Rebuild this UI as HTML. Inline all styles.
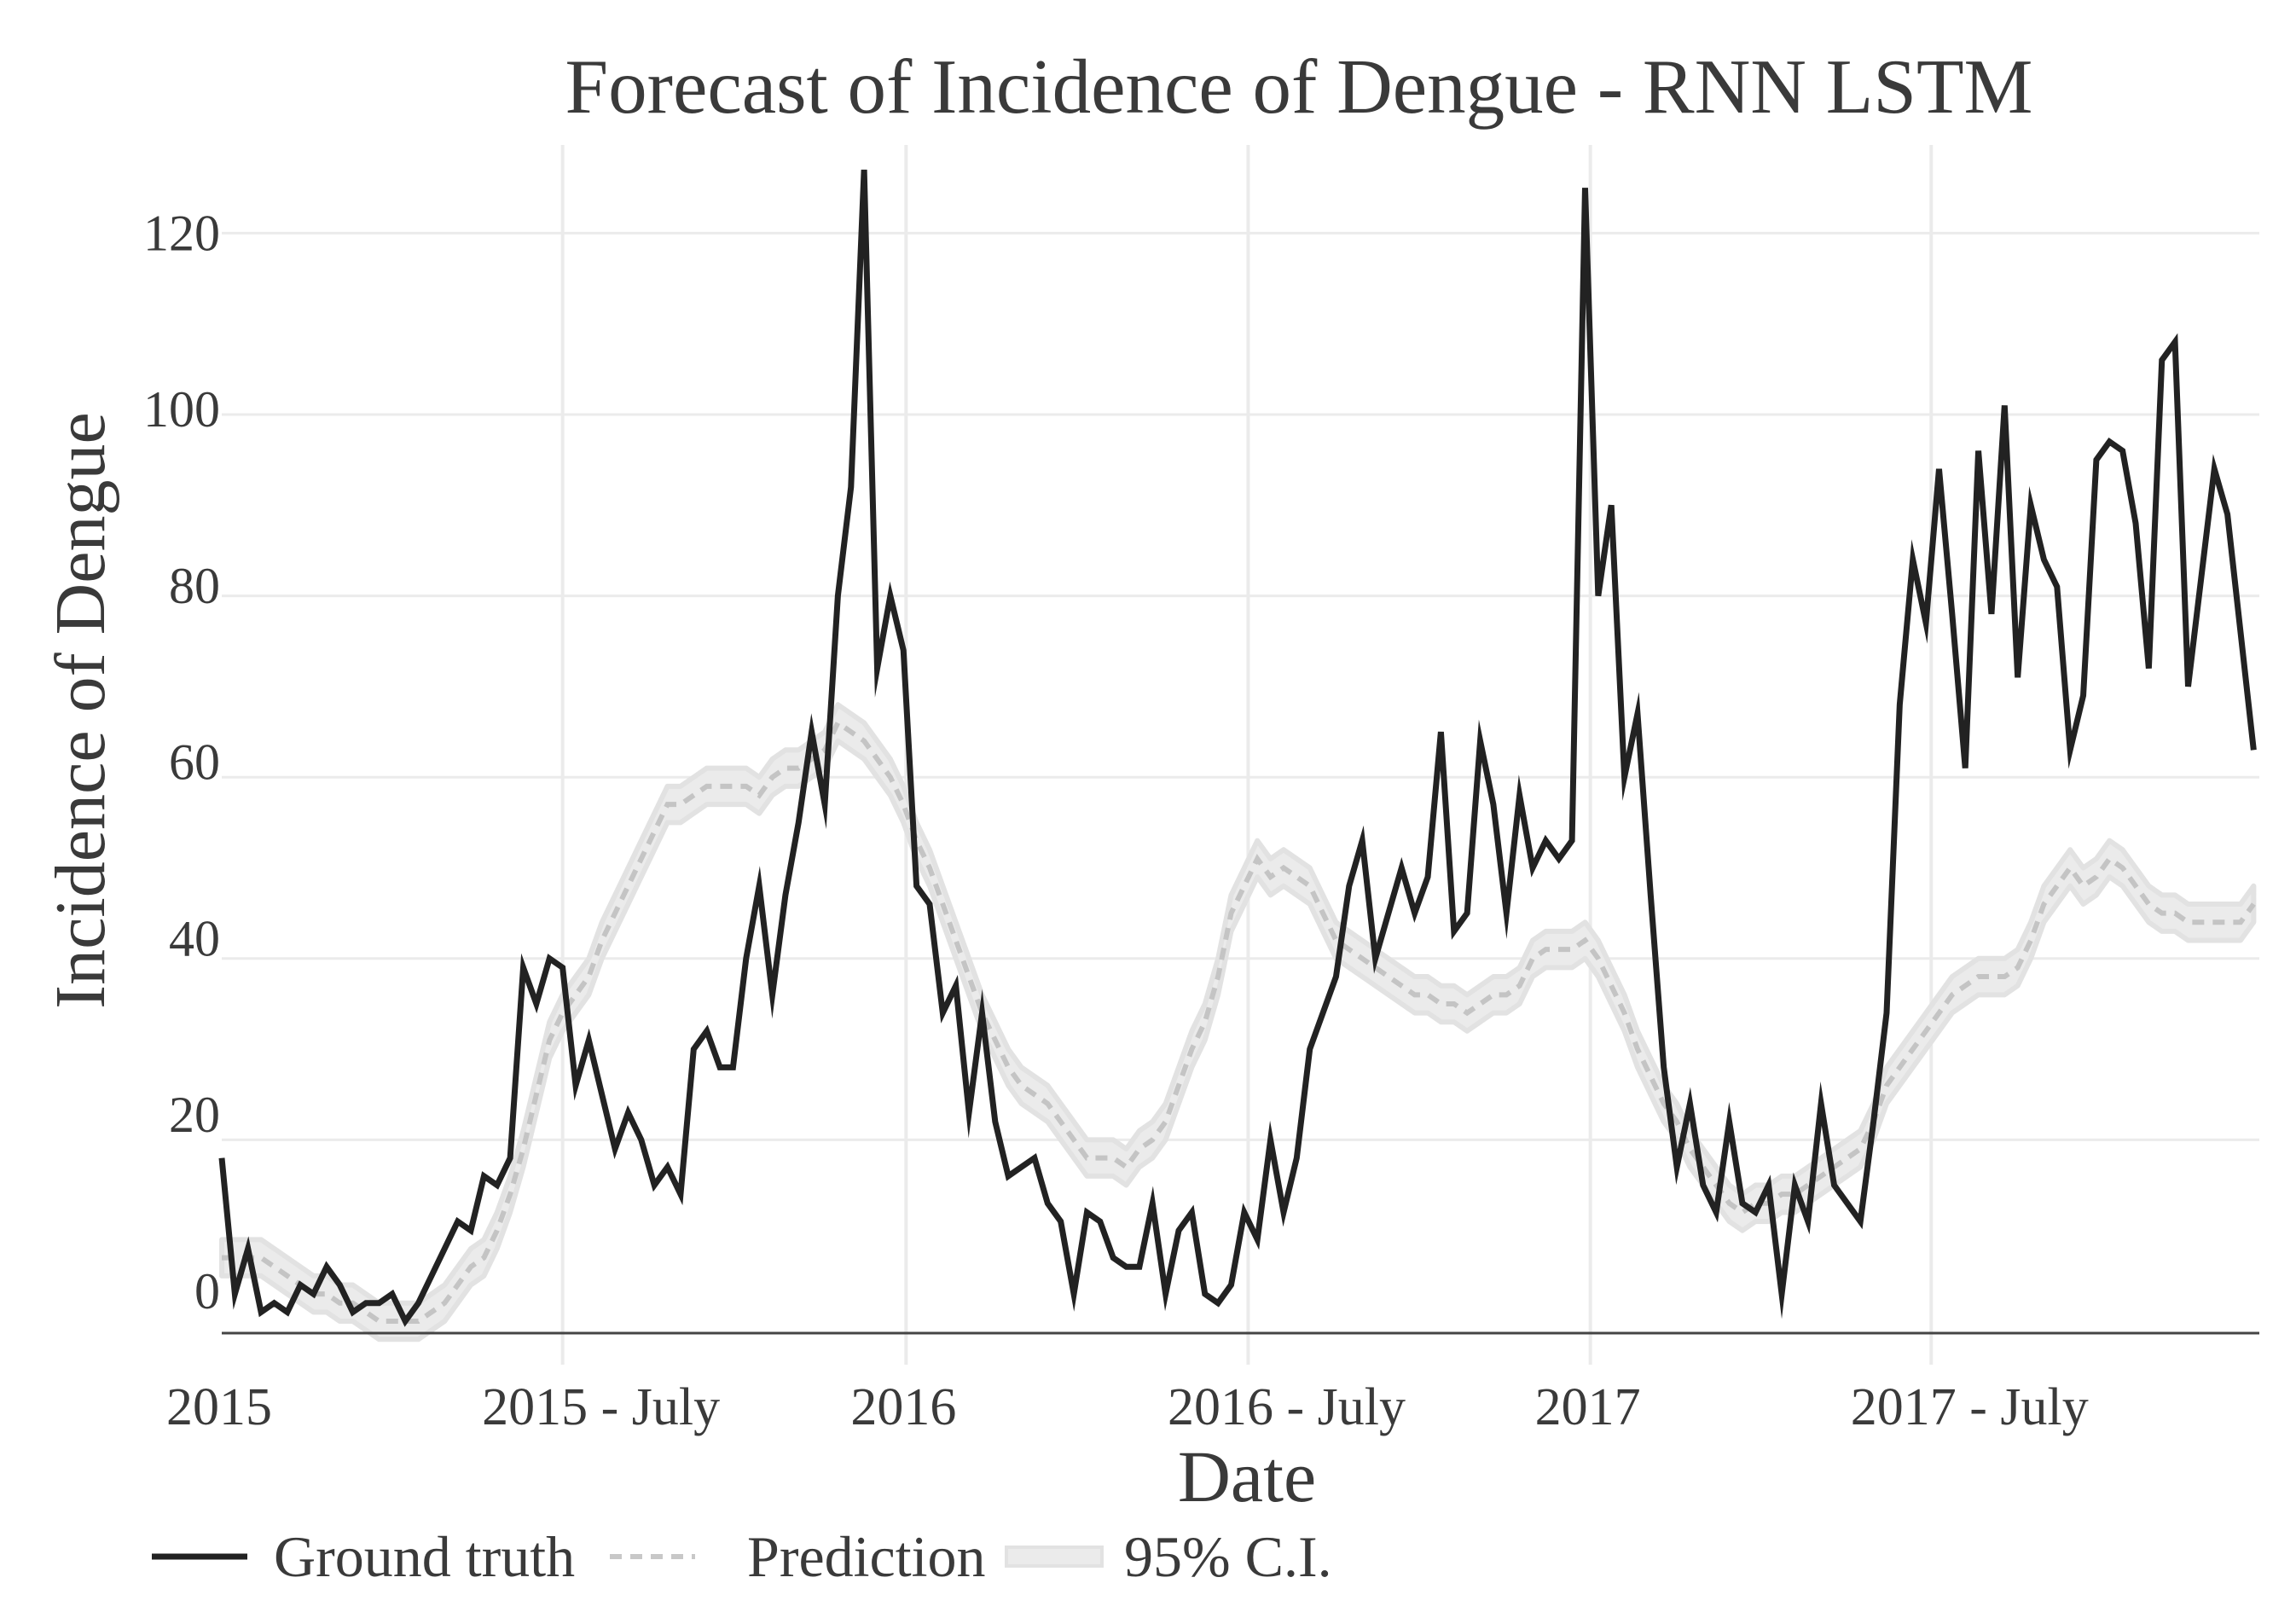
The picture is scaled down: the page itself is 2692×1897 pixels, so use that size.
<!DOCTYPE html>
<html><head><meta charset="utf-8"><style>
html,body{margin:0;padding:0;background:#fff;}
svg text{font-family:"Liberation Serif",serif;fill:#3a3a3a;}
</style></head><body>
<svg id="chart" width="2692" height="1892" viewBox="0 0 2692 1892" xmlns="http://www.w3.org/2000/svg">
<rect width="2692" height="1892" fill="#fff"/>
<g id="grid"></g>
<g id="band"></g>
<g id="series"></g>
<line x1="260" y1="1563" x2="2649" y2="1563" stroke="#444" stroke-width="3"/>
<g id="labels"></g>
<text x="1523" y="132" font-size="91" text-anchor="middle">Forecast of Incidence of Dengue - RNN LSTM</text>
<text x="1462" y="1760" font-size="86" text-anchor="middle" fill="#222">Date</text>
<text x="0" y="0" font-size="84" text-anchor="middle" transform="translate(122,833) rotate(-90)">Incidence of Dengue</text>
<g>
<g>
<line x1="178" y1="1825" x2="290" y2="1825" stroke="#222" stroke-width="7"/>
<text x="321" y="1848" font-size="68">Ground truth</text></g>
<g>
<line x1="715" y1="1825" x2="815" y2="1825" stroke="#c8c8c8" stroke-width="6" stroke-dasharray="14,10"/>
<text x="876" y="1848" font-size="68">Prediction</text></g>
<g>
<rect x="1180" y="1814" width="112" height="22" fill="#ebebeb" stroke="#e2e2e2" stroke-width="4"/>
<text x="1318" y="1848" font-size="68">95% C.I.</text></g>
</g>
</svg>
<script>
const truth=[18,3,8,1,2,1,4,3,6,4,1,2,2,3,0,2,5,8,11,10,16,15,18,39,35,40,39,
26,31,25,19,23,20,15,17,14,30,32,28,28,40,48,36,47,55,65,57,80,92,127,72,80,74,
48,46,34,37,23,34,22,16,17,18,13,11,3,12,11,7,6,6,13,3,10,12,3,2,4,12,9,
20,12,18,30,34,38,48,53,40,45,50,45,49,65,43,45,64,57,45,58,50,53,51,53,125,
80,90,60,67,47,28,17,24,15,12,22,13,12,15,3,15,11,24,15,13,11,22,34,
68,84,77,94,78,61,96,78,101,71,90,84,81,63,69,95,97,96,88,72,106,108,70,82,94,89,76,63];
const pred=[7,7,7,7,6,5,4,3,3,2,2,1,0,0,0,0,1,2,4,6,7,10,14,19,25,31,34,
36,38,42,45,48,51,54,57,57,58,59,59,59,59,58,60,61,61,62,63,66,65,64,62,60,57,
53,50,46,42,38,34,31,28,26,25,24,22,20,18,18,18,17,19,20,
22,26,30,33,38,45,48,51,49,50,49,48,45,42,41,40,
39,38,37,36,36,35,35,34,35,36,36,37,40,41,41,41,42,
40,37,34,30,27,24,22,19,17,15,13,12,13,13,14,14,15,16,17,18,19,22,26,
28,30,32,34,36,37,38,38,38,39,42,46,48,50,48,49,51,50,48,46,45,45,44,44,44,44,44,46];
const ciHalf=[2];
const yTicks=[0,20,40,60,80,100,120];
const xTickWeeks=[0,26,52.2,78.3,104.4,130.4];
const xTickLabels=["2015","2015 - July","2016","2016 - July","2017","2017 - July"];

const NS="http://www.w3.org/2000/svg";
function X(w){return 260+w*15.37;}
function Y(v){return 1549-v*10.63;}
function mk(tag,attrs,parent){const e=document.createElementNS(NS,tag);for(const k in attrs)e.setAttribute(k,attrs[k]);parent.appendChild(e);return e;}
const grid=document.getElementById('grid'),labels=document.getElementById('labels');
yTicks.forEach(v=>{
  if(v>0){const l=mk('line',{x1:260,x2:2649,y1:Y(v),y2:Y(v),stroke:'#ebebeb','stroke-width':3},grid);
  
  }
  const t=mk('text',{x:258,y:Y(v)+20-(120-v)/120*35,'font-size':60,'text-anchor':'end'},labels);
  t.textContent=v;
  
  
});
xTickWeeks.forEach((w,i)=>{
  if(i>0){const l=mk('line',{x1:X(w),x2:X(w),y1:170,y2:1600,stroke:'#ebebeb','stroke-width':4},grid);
  
  }
  const off=xTickLabels[i].length>4?45:-3;
  const t=mk('text',{x:X(w)+off,y:1670,'font-size':62,'text-anchor':'middle'},labels);
  t.textContent=xTickLabels[i];
  
  
});
const h=ciHalf[0];
let up=pred.map((v,i)=>X(i)+','+Y(v+h)).join(' ');
let lo=pred.map((v,i)=>X(i)+','+Y(v-h)).reverse().join(' ');
const band=mk('polygon',{points:up+' '+lo,fill:'#ebebeb',stroke:'#e2e2e2','stroke-width':6,'stroke-linejoin':'round'},document.getElementById('band'));


const ser=document.getElementById('series');
const pl=mk('polyline',{points:pred.map((v,i)=>X(i)+','+Y(v)).join(' '),fill:'none',stroke:'#c4c4c4','stroke-width':6,'stroke-dasharray':'14,10'},ser);


const tl=mk('polyline',{points:truth.map((v,i)=>X(i)+','+Y(v)).join(' '),fill:'none',stroke:'#222','stroke-width':7,'stroke-linejoin':'miter','stroke-miterlimit':10},ser);


</script>
</body></html>
